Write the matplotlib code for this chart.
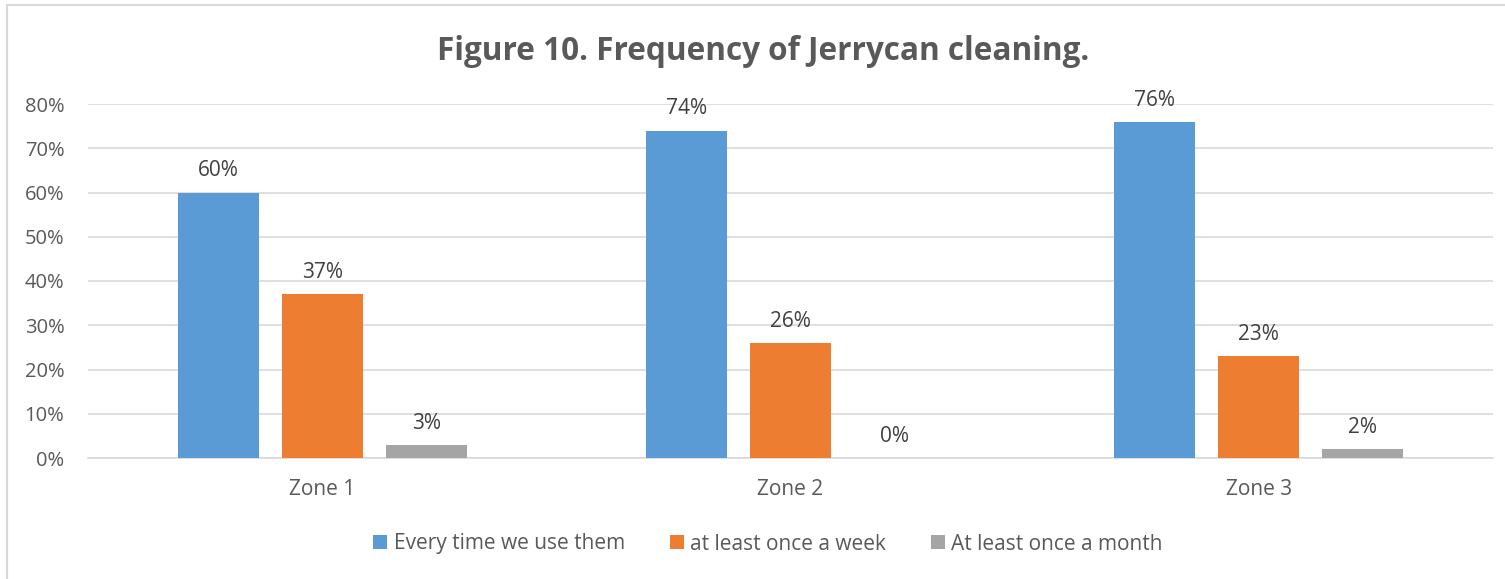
import matplotlib
matplotlib.use("Agg")
import matplotlib.pyplot as plt
from matplotlib.patches import Rectangle
import numpy as np

categories = ["Zone 1", "Zone 2", "Zone 3"]
series_names = ["Every time we use them", "at least once a week", "At least once a month"]
every_time = [60, 74, 76]
once_week = [37, 26, 23]
once_month = [3, 0, 2]
colors = ["#5B9BD5", "#ED7D31", "#A5A5A5"]
yticks = [0, 10, 20, 30, 40, 50, 60, 70, 80]

plt.rcParams['font.family'] = ['Open Sans', 'DejaVu Sans']

fig = plt.figure(figsize=(15.05, 5.79), dpi=100)
ax = fig.add_axes([88/1505, 1-458/579, (1493-88)/1505, (458-104)/579])

x = np.arange(len(categories))
width = 0.173
offsets = [-0.222, 0, 0.222]
for vals, name, c, off in zip([every_time, once_week, once_month], series_names, colors, offsets):
    ax.bar(x + off, vals, width, color=c, label=name, zorder=3)
    for xi, v in zip(x + off, vals):
        ax.annotate(f"{v}%", (xi, v), xytext=(0, 8), textcoords="offset points",
                    ha="center", va="bottom", fontsize=15, color="#404040")

ax.set_xlim(-0.5, 2.5)
ax.set_ylim(0, 80)
ax.set_yticks(yticks)
ax.set_yticklabels([f"{t}%" for t in yticks], fontsize=14.5, color="#595959")
ax.set_xticks(x)
ax.set_xticklabels(categories, fontsize=15, color="#595959")
ax.tick_params(axis="y", length=0, pad=17)
ax.tick_params(axis="x", length=0, pad=15)
ax.grid(axis="y", color="#D9D9D9", linewidth=1.2, zorder=0)
for s in ["top", "right", "left"]:
    ax.spines[s].set_visible(False)
ax.spines["bottom"].set_color("#D9D9D9")
ax.spines["bottom"].set_linewidth(1.2)

fig.text(763/1505, 1-52/579, "Figure 10. Frequency of Jerrycan cleaning.", ha="center", va="center",
         fontsize=22.7, fontweight="bold", color="#595959")

handles, labels = ax.get_legend_handles_labels()
fig.legend(handles, labels, loc="center", bbox_to_anchor=(768/1505, 1-544/579), ncol=3, frameon=False,
           fontsize=15, handlelength=0.67, handleheight=0.67, columnspacing=2.16, handletextpad=0.3,
           labelcolor="#595959")

fig.patches.append(Rectangle((7/1505, -0.5), 1.0, 1.5 - 5/579, transform=fig.transFigure,
                             fill=False, edgecolor="#D9D9D9", linewidth=1.5))

fig.savefig("out.png", dpi=100, facecolor="white")
